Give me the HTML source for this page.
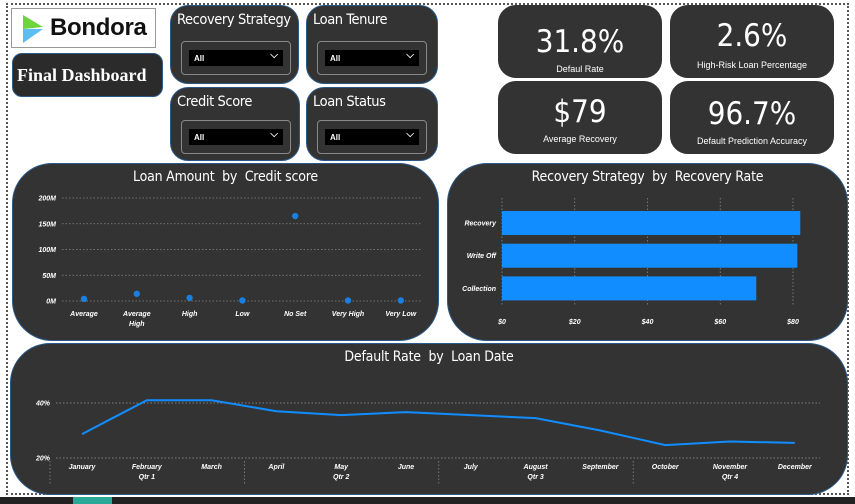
<!DOCTYPE html>
<html><head><meta charset="utf-8"><style>
*{box-sizing:border-box;margin:0;padding:0}
body{width:855px;height:504px;background:#fff;position:relative;overflow:hidden;font-family:"Liberation Sans",sans-serif;color:#fff}
.frame{position:absolute;left:6px;top:3px;width:843px;height:492px;border:2px dotted #555}
.card{position:absolute;background:#333;border:1.5px solid #2a5a8a;border-radius:18px}
.ft{position:absolute;left:6px;top:6px;font-size:14.5px;letter-spacing:-0.4px;white-space:nowrap;font-family:"DejaVu Sans Condensed","Liberation Sans",sans-serif}
.dd{position:absolute;left:10px;width:110px;height:34px;border:1px solid #888;border-radius:4px}
.dd div{position:absolute;left:7px;top:8px;right:7px;height:16px;background:#000;font-size:8px;font-weight:bold;padding:4px 5px}
.dd span{position:absolute;right:5px;top:0;font-size:10px}
.kv{position:absolute;width:100%;text-align:center;font-size:31px;font-family:"DejaVu Sans Condensed","Liberation Sans",sans-serif}
.kl{position:absolute;width:100%;text-align:center;font-size:9px}
.t{position:absolute;width:100%;text-align:center;font-size:14px;top:5px;font-family:"DejaVu Sans Condensed","Liberation Sans",sans-serif;letter-spacing:-0.2px}
svg text{font-family:"Liberation Sans",sans-serif;fill:#fff;font-weight:bold;font-style:italic;font-size:7px}
</style></head><body>
<div class="frame"></div>
<div style="position:absolute;left:11px;top:8px;width:145px;height:40px;border:1px solid #999;background:#fff;">
<svg width="30" height="32" style="position:absolute;left:9px;top:4px"><polygon points="2,2 22,14 2,16" fill="#6dd43c"/><polygon points="2,16 22,16 2,30" fill="#5bbdf0"/></svg>
<span style="position:absolute;left:38px;top:5px;font-size:24px;font-weight:bold;color:#111;letter-spacing:-0.3px">Bondora</span></div>
<div class="card" style="left:12px;top:53px;width:151px;height:44px;border-radius:10px;background:#2b2b2b"><span style="position:absolute;left:4px;top:11px;font-family:'Liberation Serif',serif;font-weight:bold;font-size:18px">Final Dashboard</span></div>

<div class="card" style="left:170px;top:5px;width:129px;height:79px"><div class="ft">Recovery Strategy</div><div class="dd" style="top:35px"><div>All<span>⌵</span></div></div></div>
<div class="card" style="left:306px;top:5px;width:132px;height:79px"><div class="ft">Loan Tenure</div><div class="dd" style="top:35px"><div>All<span>⌵</span></div></div></div>
<div class="card" style="left:170px;top:87px;width:130px;height:74px"><div class="ft">Credit Score</div><div class="dd" style="top:32px"><div>All<span>⌵</span></div></div></div>
<div class="card" style="left:306px;top:87px;width:132px;height:74px"><div class="ft">Loan Status</div><div class="dd" style="top:32px"><div>All<span>⌵</span></div></div></div>

<div class="card" style="left:498px;top:5px;width:164px;height:73px;border-color:#333"><div class="kv" style="top:18px">31.8%</div><div class="kl" style="top:58px">Defaul Rate</div></div>
<div class="card" style="left:670px;top:5px;width:164px;height:73px;border-color:#333"><div class="kv" style="top:12px">2.6%</div><div class="kl" style="top:54px">High-Risk Loan Percentage</div></div>
<div class="card" style="left:498px;top:81px;width:164px;height:73px;border-color:#333"><div class="kv" style="top:12px">$79</div><div class="kl" style="top:52px">Average Recovery</div></div>
<div class="card" style="left:670px;top:81px;width:164px;height:73px;border-color:#333"><div class="kv" style="top:14px">96.7%</div><div class="kl" style="top:54px">Default Prediction Accuracy</div></div>

<div class="card" style="left:12px;top:163px;width:427px;height:178px;border-radius:40px"><div class="t">Loan Amount &nbsp;by &nbsp;Credit score</div></div>
<div class="card" style="left:447px;top:163px;width:401px;height:178px;border-radius:40px"><div class="t">Recovery Strategy &nbsp;by &nbsp;Recovery Rate</div></div>
<div class="card" style="left:10px;top:343px;width:838px;height:152px;border-radius:40px"><div class="t">Default Rate &nbsp;by &nbsp;Loan Date</div></div>
<div style="position:absolute;left:0;top:497px;width:855px;height:7px;background:#222"></div>
<div style="position:absolute;left:73px;top:497px;width:39px;height:7px;background:#2aa898"></div>

<svg id="ch" width="855" height="504" style="position:absolute;left:0;top:0"></svg>
<script>
const scatterCats=["Average","Average|High","High","Low","No Set","Very High","Very Low"];
const scatterVals=[4,14,6,1,165,1,1];
const scatterTicks=[0,50,100,150,200];
const barCats=["Recovery","Write Off","Collection"];
const barVals=[82,81.2,69.9];
const barTicks=[0,20,40,60,80];
const months=["January","February","March","April","May","June","July","August","September","October","November","December"];
const lineVals=[28.7,41,41,37,35.6,36.7,35.6,34.5,30,24.7,26,25.5];
const lineTicks=[20,40];
const svg=document.getElementById('ch');const NS="http://www.w3.org/2000/svg";
function mk(t,a,p){const e=document.createElementNS(NS,t);for(const k in a)e.setAttribute(k,a[k]);(p||svg).appendChild(e);return e;}
// scatter
const sy=v=>301-v/200*103, sx=i=>84+i*52.8;
scatterTicks.forEach(t=>{const l=mk('line',{x1:62,x2:422,y1:sy(t),y2:sy(t),stroke:'#888','stroke-dasharray':'1.5 2','stroke-width':0.8});
const tx=mk('text',{x:56,y:sy(t)+2.5,'text-anchor':'end'});tx.textContent=t+'M';});
scatterCats.forEach((c,i)=>{c.split('|').forEach((s,j)=>{const tx=mk('text',{x:sx(i),y:316+j*10,'text-anchor':'middle'});tx.textContent=s;});
const d=mk('circle',{cx:sx(i),cy:sy(scatterVals[i]),r:3.2,fill:'#1a7fe0'});});
// bar
const bx=v=>502+v/80*291;
barTicks.forEach(t=>{const l=mk('line',{x1:bx(t),x2:bx(t),y1:198,y2:305,stroke:'#888','stroke-dasharray':'1.5 2','stroke-width':0.8});
const tx=mk('text',{x:bx(t),y:324,'text-anchor':'middle'});tx.textContent='$'+t;});
barCats.forEach((c,i)=>{const y=211+i*32.7;const r=mk('rect',{x:bx(0),y:y,width:bx(barVals[i])-bx(0),height:24,fill:'#118dff'});
const tx=mk('text',{x:496,y:y+14.5,'text-anchor':'end'});tx.textContent=c;});
// line
const ly=v=>458-(v-20)/20*55, lx=i=>82+i*64.8;
lineTicks.forEach(t=>{const l=mk('line',{x1:56,x2:820,y1:ly(t),y2:ly(t),stroke:'#999','stroke-dasharray':'1.5 2','stroke-width':0.8});
const tx=mk('text',{x:50,y:ly(t)+2.5,'text-anchor':'end'});tx.textContent=t+'%';});
months.forEach((m,i)=>{const tx=mk('text',{x:lx(i),y:469,'text-anchor':'middle'});tx.textContent=m;});
for(let q=0;q<4;q++){const tx=mk('text',{x:lx(q*3+1),y:479,'text-anchor':'middle'});tx.textContent='Qtr '+(q+1);
const sep=mk('line',{x1:lx(q*3)-32,x2:lx(q*3)-32,y1:461,y2:484,stroke:'#888','stroke-dasharray':'1.5 2','stroke-width':0.8});}
const p=mk('polyline',{points:lineVals.map((v,i)=>lx(i)+','+ly(v)).join(' '),fill:'none',stroke:'#118dff','stroke-width':2});


</script>
</body></html>
